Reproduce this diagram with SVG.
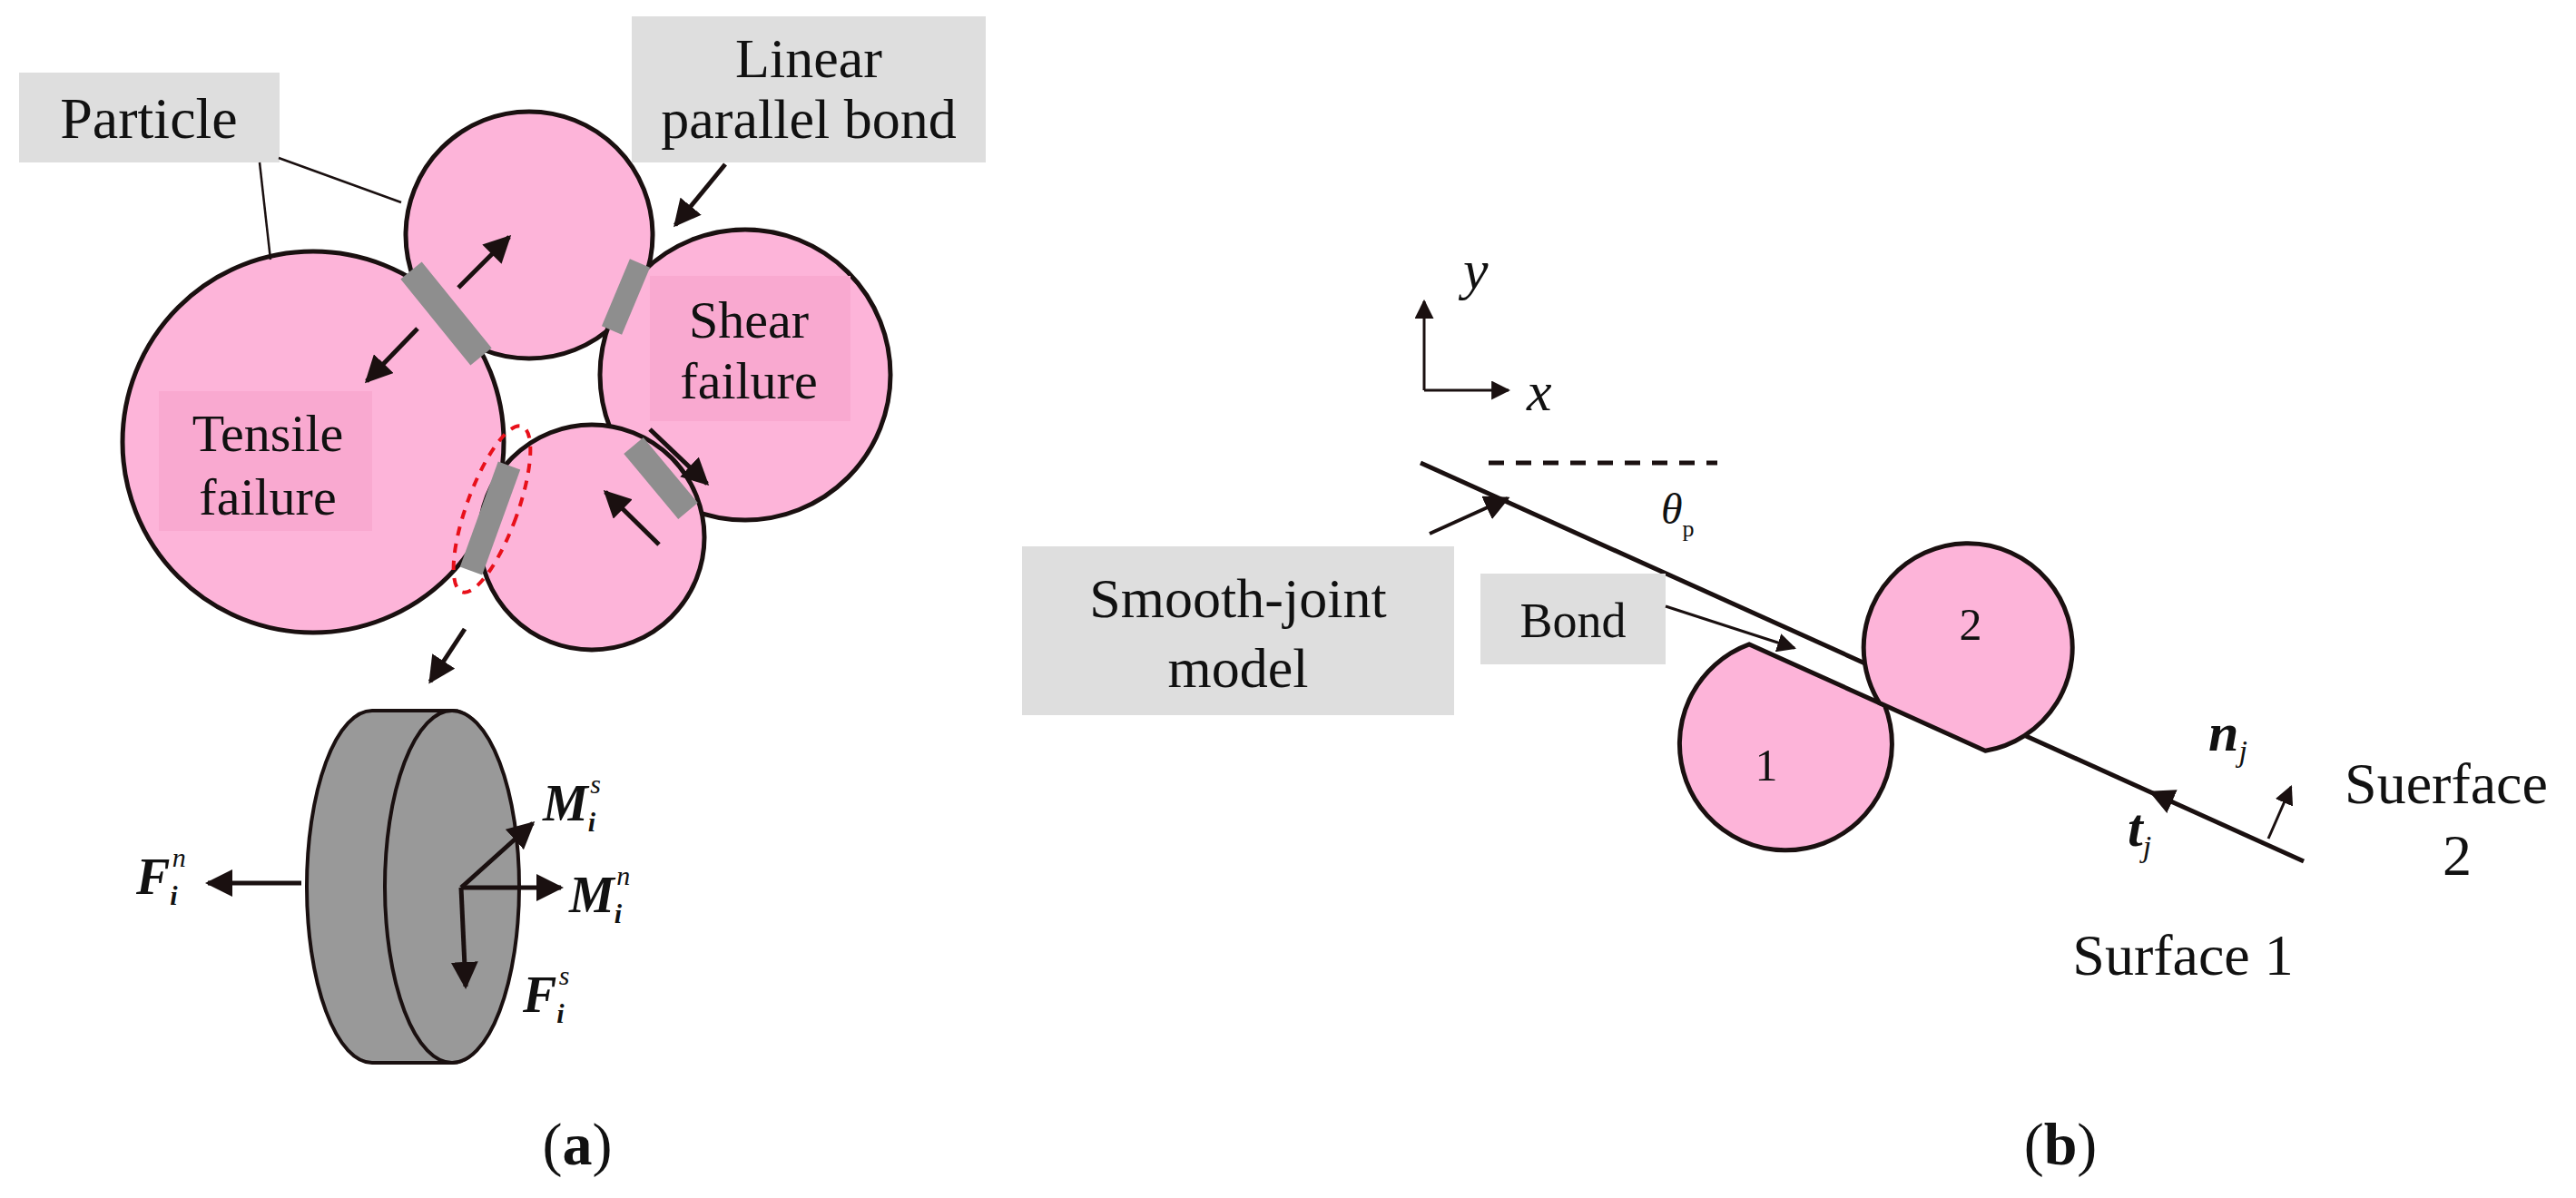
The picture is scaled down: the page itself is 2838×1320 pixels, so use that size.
<svg xmlns="http://www.w3.org/2000/svg" width="2838" height="1320" viewBox="0 0 2838 1320">
<defs>
<marker id="ah" viewBox="0 0 10 10" refX="9" refY="5" markerWidth="6" markerHeight="6" orient="auto" markerUnits="strokeWidth"><path d="M0,0 L10,5 L0,10 Z" fill="#1a1010"/></marker>
<marker id="ahs" viewBox="0 0 10 10" refX="9" refY="5" markerWidth="7" markerHeight="7" orient="auto" markerUnits="strokeWidth"><path d="M0,0 L10,5 L0,10 Z" fill="#1a1010"/></marker>
<style>
.p{fill:#fdb4d9;stroke:#1a1010;stroke-width:5}
.bd{stroke:#8e8e8e;fill:none}
.ar{stroke:#1a1010;stroke-width:5;fill:none;marker-end:url(#ah)}
.ln{stroke:#1a1010;fill:none}
.box{fill:#dedede}
.t{font-family:"Liberation Serif",serif;fill:#111}
.m{font-family:"Liberation Serif",serif;font-style:italic;font-weight:bold;fill:#111}
</style>
</defs>
<rect width="2838" height="1320" fill="#fff"/>
<g id="particle-label">
<rect class="box" x="21" y="80" width="287" height="99"/>
<text class="t" x="164" y="152" font-size="64" text-anchor="middle">Particle</text>
</g>
<g id="lpb-label">
<rect class="box" x="696" y="18" width="390" height="161"/>
<text class="t" x="891" y="85" font-size="62" text-anchor="middle">Linear</text>
<text class="t" x="891" y="152" font-size="62" text-anchor="middle">parallel bond</text>
</g>
<g id="particles-a">
<circle class="p" cx="345" cy="487" r="210"/>
<circle class="p" cx="583" cy="259" r="136"/>
<circle class="p" cx="821" cy="413" r="160"/>
<circle class="p" cx="652" cy="592" r="124"/>
<rect x="716" y="304" width="221" height="160" fill="#f9a9d0"/>
<rect x="175" y="431" width="235" height="154" fill="#f9a9d0"/>
<text class="t" x="825" y="372" font-size="58" text-anchor="middle">Shear</text>
<text class="t" x="825" y="439" font-size="58" text-anchor="middle">failure</text>
<text class="t" x="295" y="497" font-size="58" text-anchor="middle">Tensile</text>
<text class="t" x="295" y="567" font-size="58" text-anchor="middle">failure</text>
</g>
<g id="bonds-a">
<line class="bd" x1="453" y1="298" x2="530" y2="393" stroke-width="30"/>
<line class="bd" x1="705" y1="290" x2="674" y2="364" stroke-width="24"/>
<line class="bd" x1="698" y1="491" x2="758" y2="563" stroke-width="28"/>
<line class="bd" x1="561" y1="513" x2="519" y2="629" stroke-width="26"/>
<ellipse cx="542" cy="561" rx="28" ry="97" transform="rotate(20 542 561)" fill="none" stroke="#e8101a" stroke-width="4" stroke-dasharray="10 9"/>
</g>
<g id="disk">
<path d="M410,783 L498,783 A72,194 0 0 1 498,1171 L410,1171 A72,194 0 0 1 410,783 Z" fill="#999" stroke="#1a1010" stroke-width="4"/>
<ellipse cx="498" cy="977" rx="74" ry="194" fill="#999" stroke="#1a1010" stroke-width="4"/>
</g>
<g id="connectors">
<line class="ln" x1="307" y1="174" x2="442" y2="223" stroke-width="2.5"/>
<line class="ln" x1="286" y1="179" x2="298" y2="286" stroke-width="2.5"/>
<line class="ar" x1="799" y1="181" x2="744" y2="248"/>
<line class="ar" x1="505" y1="317" x2="561" y2="261"/>
<line class="ar" x1="460" y1="362" x2="404" y2="420"/>
<line class="ar" x1="716" y1="473" x2="779" y2="533"/>
<line class="ar" x1="726" y1="600" x2="667" y2="542"/>
<line class="ar" x1="512" y1="693" x2="474" y2="751"/>
<line class="ar" x1="332" y1="973" x2="229" y2="973"/>
<line class="ar" x1="508" y1="978" x2="587" y2="907"/>
<line class="ar" x1="508" y1="978" x2="618" y2="978"/>
<line class="ar" x1="508" y1="978" x2="513" y2="1087"/>
</g>
<g id="labels-a">
<text class="m" x="150" y="985" font-size="56">F<tspan font-size="30" dy="12">i</tspan><tspan font-size="30" dx="-6" dy="-42" font-weight="normal">n</tspan></text>
<text class="m" x="598" y="904" font-size="56">M<tspan font-size="30" dy="12">i</tspan><tspan font-size="30" dx="-6" dy="-42" font-weight="normal">s</tspan></text>
<text class="m" x="627" y="1005" font-size="56">M<tspan font-size="30" dy="12">i</tspan><tspan font-size="30" dx="-6" dy="-42" font-weight="normal">n</tspan></text>
<text class="m" x="576" y="1115" font-size="56">F<tspan font-size="30" dy="12">i</tspan><tspan font-size="30" dx="-6" dy="-42" font-weight="normal">s</tspan></text>
<text class="t" x="636" y="1283" font-size="66" text-anchor="middle">(<tspan font-weight="bold">a</tspan>)</text>
</g>
<g id="axes">
<line class="ln" x1="1569" y1="430" x2="1569" y2="332" stroke-width="3" marker-end="url(#ahs)"/>
<line class="ln" x1="1569" y1="430" x2="1662" y2="430" stroke-width="3" marker-end="url(#ahs)"/>
<text class="t" x="1612" y="318" font-size="62" font-style="italic">y</text>
<text class="t" x="1682" y="452" font-size="62" font-style="italic">x</text>
</g>
<g id="joint">
<line class="ln" x1="1565" y1="510" x2="2538" y2="949" stroke-width="5"/>
<line class="ln" x1="1640" y1="510" x2="1892" y2="510" stroke-width="5" stroke-dasharray="17 13"/>
<text class="t" x="1830" y="577" font-size="48" font-style="italic" fill="#555">θ<tspan font-size="26" dy="14" font-style="normal">p</tspan></text>
<path class="p" d="M1927.2,709.9 A117,117 0 1 0 2076.4,777.2 Z" stroke-width="4"/>
<path class="p" d="M2070.6,774.6 A115,115 0 1 1 2187.2,827.2 Z" stroke-width="4"/>
<text class="t" x="1946" y="860" font-size="50" text-anchor="middle">1</text>
<text class="t" x="2171" y="705" font-size="50" text-anchor="middle">2</text>
<line class="ln" x1="2395" y1="884" x2="2370" y2="873" stroke-width="4" marker-end="url(#ahs)"/>
<line class="ln" x1="2499" y1="924" x2="2524" y2="867" stroke-width="3" marker-end="url(#ahs)"/>
<text class="m" x="2433" y="827" font-size="60">n<tspan font-size="34" dy="12" font-weight="normal">j</tspan></text>
<text class="m" x="2344" y="932" font-size="60">t<tspan font-size="34" dy="12" font-weight="normal">j</tspan></text>
</g>
<g id="smooth-joint-label">
<rect class="box" x="1126" y="602" width="476" height="186"/>
<text class="t" x="1364" y="680" font-size="62" text-anchor="middle">Smooth-joint</text>
<text class="t" x="1364" y="757" font-size="62" text-anchor="middle">model</text>
<line class="ln" x1="1575" y1="588" x2="1661" y2="549" stroke-width="4" marker-end="url(#ahs)"/>
</g>
<g id="bond-label">
<rect class="box" x="1631" y="632" width="204" height="100"/>
<text class="t" x="1733" y="702" font-size="54" text-anchor="middle">Bond</text>
<line class="ln" x1="1835" y1="668" x2="1977" y2="714" stroke-width="3" marker-end="url(#ahs)"/>
</g>
<g id="surface-labels">
<text class="t" x="2695" y="885" font-size="64" text-anchor="middle">Suerface</text>
<text class="t" x="2707" y="964" font-size="64" text-anchor="middle">2</text>
<text class="t" x="2405" y="1074" font-size="64" text-anchor="middle">Surface 1</text>
<text class="t" x="2270" y="1283" font-size="66" text-anchor="middle">(<tspan font-weight="bold">b</tspan>)</text>
</g>
</svg>
